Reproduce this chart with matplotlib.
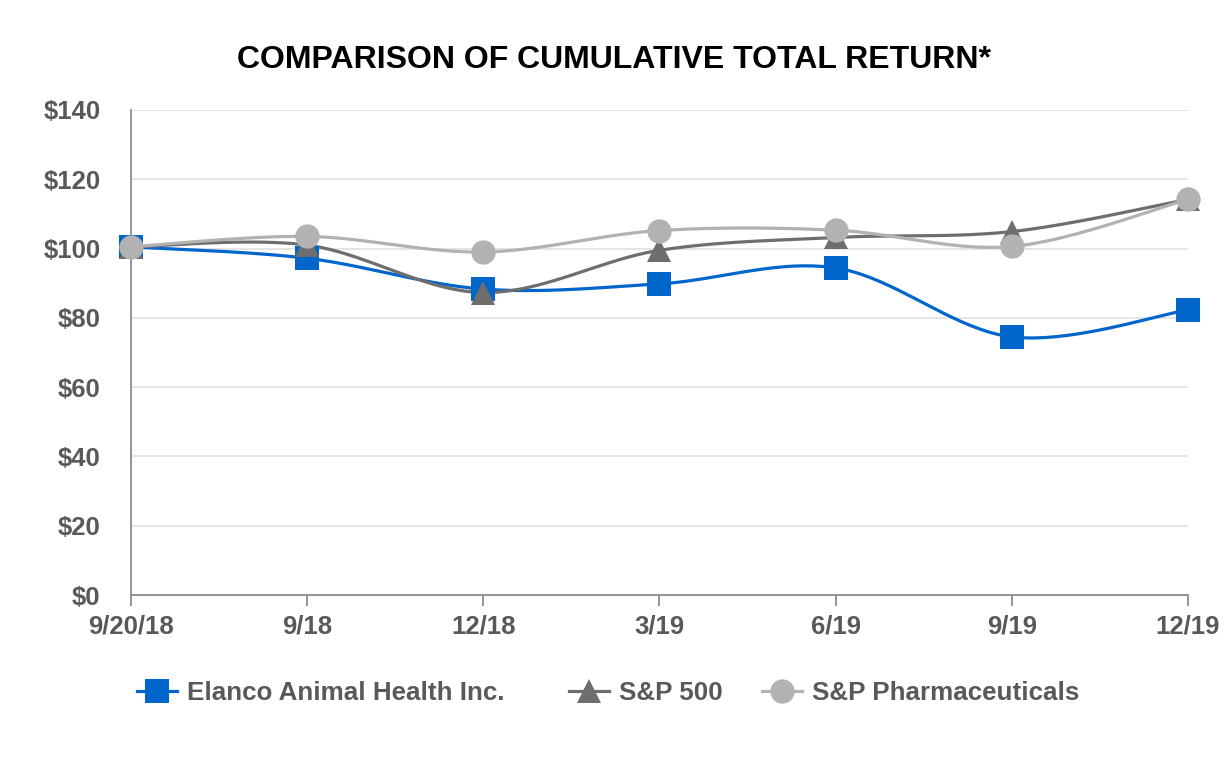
import numpy as np
import matplotlib
matplotlib.use("Agg")
import matplotlib.pyplot as plt
from matplotlib.lines import Line2D

plt.rcParams["font.family"] = ["Liberation Sans", "DejaVu Sans"]

periods = ["9/20/18", "9/18", "12/18", "3/19", "6/19", "9/19", "12/19"]
elanco = [100.5, 97.2, 88.3, 89.8, 94.4, 74.5, 82.3]
sp500 = [100.5, 101.0, 87.3, 99.5, 103.2, 104.9, 114.2]
sp_pharma = [100.5, 103.5, 99.0, 105.2, 105.3, 100.6, 114.2]

yticks = [0, 20, 40, 60, 80, 100, 120, 140]

TICK_COLOR = "#595959"


def smooth(xs, ys, n=40):
    # Excel-like smoothed line: cubic Bezier through points, Catmull-Rom tangents
    xs = np.asarray(xs, float)
    ys = np.asarray(ys, float)
    px = np.concatenate([[xs[0]], xs, [xs[-1]]])
    py = np.concatenate([[ys[0]], ys, [ys[-1]]])
    outx, outy = [], []
    t = np.linspace(0, 1, n)
    for i in range(len(xs) - 1):
        p0 = np.array([px[i], py[i]])
        p1 = np.array([px[i + 1], py[i + 1]])
        p2 = np.array([px[i + 2], py[i + 2]])
        p3 = np.array([px[i + 3], py[i + 3]])
        c1 = p1 + (p2 - p0) / 6.0
        c2 = p2 - (p3 - p1) / 6.0
        b = ((1 - t) ** 3)[:, None] * p1 + (3 * (1 - t) ** 2 * t)[:, None] * c1 \
            + (3 * (1 - t) * t ** 2)[:, None] * c2 + (t ** 3)[:, None] * p2
        outx.extend(b[:, 0])
        outy.extend(b[:, 1])
    return np.array(outx), np.array(outy)


fig = plt.figure(figsize=(12.32, 7.6), dpi=100)
ax = fig.add_axes([0.1063, 0.2171, 0.858, 0.6382])

x = np.arange(len(periods))
series = [
    (elanco, "Elanco Animal Health Inc.", "#0066CC", "s", 17.3),
    (sp500, "S&P 500", "#6E6E6E", "^", 17.5),
    (sp_pharma, "S&P Pharmaceuticals", "#B2B2B2", "o", 17.5),
]

handles = []
for vals, label, color, marker, ms in series:
    sx, sy = smooth(x, vals)
    ax.plot(sx, sy, color=color, lw=2.3, solid_capstyle="round", zorder=2,
            clip_on=False)
    ax.plot(x, vals, ls="none", marker=marker, ms=ms, color=color,
            markeredgewidth=0, zorder=3, clip_on=False)
    handles.append(Line2D([], [], color=color, lw=2.3, marker=marker, ms=ms,
                          markeredgewidth=0, label=label))

ax.set_xlim(0, len(periods) - 1)
ax.set_ylim(0, 140)
ax.set_yticks(yticks)
ax.set_yticklabels(["${}".format(v) for v in yticks])
ax.set_xticks(x)
ax.set_xticklabels(periods)

ax.yaxis.grid(True, color="#E3E3E3", lw=1.3)
ax.set_axisbelow(True)
for side in ["top", "right"]:
    ax.spines[side].set_visible(False)
ax.spines["left"].set_color("#8C8C8C")
ax.spines["bottom"].set_color("#8C8C8C")
ax.spines["left"].set_linewidth(1.3)
ax.spines["bottom"].set_linewidth(1.3)

ax.tick_params(axis="y", length=0, pad=22, labelsize=18.5, labelcolor=TICK_COLOR)
ax.tick_params(axis="x", length=8, width=1.3, color="#8C8C8C", pad=6,
               labelsize=18.5, labelcolor=TICK_COLOR)
for lab in ax.get_xticklabels() + ax.get_yticklabels():
    lab.set_fontweight("bold")

fig.text(0.4985, 0.921, "COMPARISON OF CUMULATIVE TOTAL RETURN*", ha="center",
         va="center", fontsize=23, fontweight="bold", color="black")

# legend entries placed individually (uneven spacing as in the reference)
legend_x = [137, 569, 762]
for h, lx in zip(handles, legend_x):
    leg = fig.legend(handles=[h], loc="center left",
                     bbox_to_anchor=(lx / 1232, 1 - 693 / 760),
                     frameon=False, handlelength=1.54, handletextpad=0.38,
                     borderpad=0, borderaxespad=0,
                     prop={"size": 18.7, "weight": "bold"})
    for t in leg.get_texts():
        t.set_color(TICK_COLOR)

fig.savefig("out.png", dpi=100)
